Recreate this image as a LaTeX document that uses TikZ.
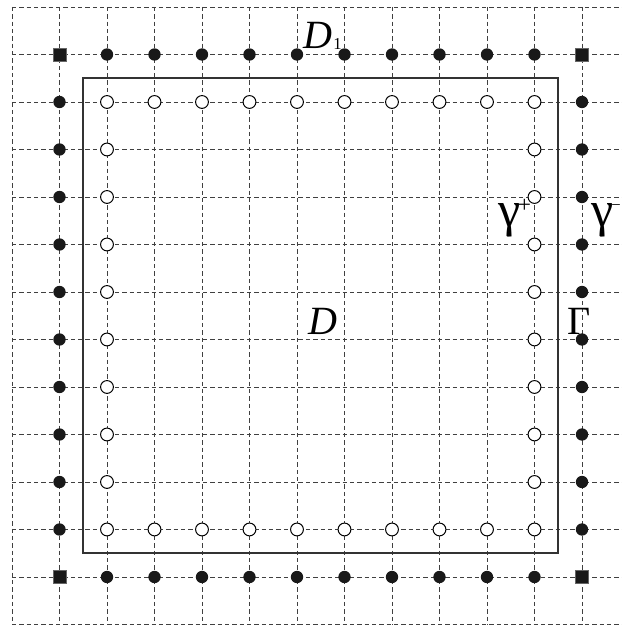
\documentclass[tikz,border=0pt]{standalone}
\usepackage{fontspec}
\setmainfont{Liberation Serif}
\begin{document}
\begin{tikzpicture}[x=1cm,y=-1cm,
  gridline/.style={dash pattern=on 2.6pt off 1.8pt, line width=0.55pt, black!75},
  fdot/.style={circle, fill=black!90, inner sep=0pt, minimum size=0.26cm},
  odot/.style={circle, draw=black, fill=white, line width=0.6pt, inner sep=0pt, minimum size=0.27cm},
  sq/.style={rectangle, fill=black!90, draw=black!60, line width=0.4pt, inner sep=0pt, minimum size=0.27cm},
  lbl/.style={font=\fontsize{24}{28}\selectfont, inner sep=0pt, anchor=base west},
  frame/.style={line width=0.9pt, black!80}]
\useasboundingbox (-0.2526,-0.147) rectangle (12.842,13.032);
% grid
\foreach \i in {0,...,12} \draw[gridline] (\i,0) -- (\i,13);
\foreach \j in {0,...,13} \draw[gridline] (0,\j) -- (13,\j);
% domain boundary
\draw[frame] (1.5,1.5) rectangle (11.5,11.5);
% filled points
\foreach \k in {2,...,11} {
  \node[fdot] (ft\k) at (\k,1) {};
  \node[fdot] (fb\k) at (\k,12) {};
  \node[fdot] (fl\k) at (1,\k) {};
  \node[fdot] (fr\k) at (12,\k) {};
  \node[odot] (ot\k) at (\k,2) {};
  \node[odot] (ob\k) at (\k,11) {};
}
\foreach \k in {3,...,10} {
  \node[odot] (ol\k) at (2,\k) {};
  \node[odot] (or\k) at (11,\k) {};
}
% corner squares
\node[sq] (c1) at (1,1) {};
\node[sq] (c2) at (12,1) {};
\node[sq] (c3) at (1,12) {};
\node[sq] (c4) at (12,12) {};
% labels
\node[lbl] (d1) at (6.13,0.884) {\textit{D}\kern0.5pt\raisebox{-0.5pt}{\fontsize{10}{10}\selectfont 1}};
\node[lbl] (d) at (6.23,6.905) {\textit{D}};
\node[lbl] (gp) at (10.23,4.63) {\fontsize{30}{32}\selectfont γ\kern-1.5pt\raisebox{8.7pt}{\fontsize{14}{14}\selectfont +}};
\node[lbl] (gm) at (12.2,4.63) {\fontsize{30}{32}\selectfont γ\kern-1.5pt\raisebox{10pt}{\fontsize{10}{10}\selectfont −}};
\node[lbl] (gg) at (11.68,6.905) {Γ};
\end{tikzpicture}
\end{document}
